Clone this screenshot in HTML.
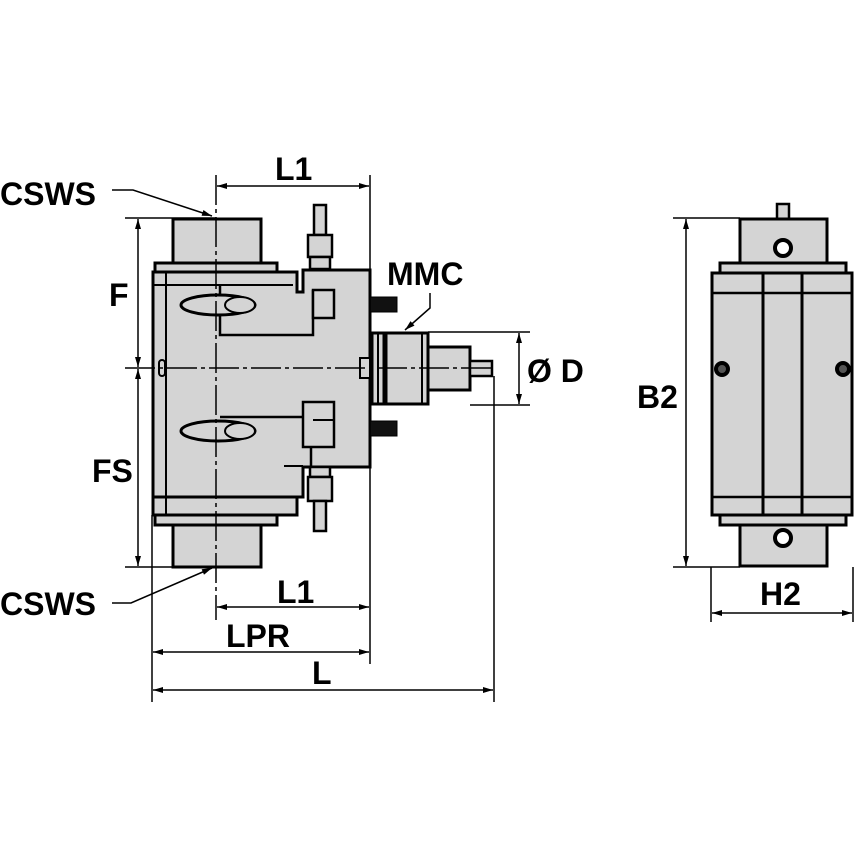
<!DOCTYPE html>
<html><head><style>body{margin:0;background:#fff}svg{display:block}text{font-family:"Liberation Sans",Arial,sans-serif;font-weight:bold;fill:#000}</style></head>
<body>
<svg width="854" height="854" viewBox="0 0 854 854" xmlns="http://www.w3.org/2000/svg">
<defs>
<marker id="a" viewBox="0 0 10 6" refX="10" refY="3" markerWidth="12" markerHeight="6" orient="auto-start-reverse" markerUnits="userSpaceOnUse"><path d="M0,0L10,3L0,6z" fill="#000"/></marker>
</defs>
<g stroke="#000" fill="#d4d4d4">
<rect x="173" y="219" width="88" height="44" stroke-width="3"/>
<rect x="173" y="525" width="88" height="42" stroke-width="3"/>
<rect x="155" y="263" width="122" height="9" stroke-width="3"/>
<rect x="155" y="515" width="122" height="10" stroke-width="3"/>
<path d="M153,272 H297 V292 H303 V270 H370 V467 H303 V497 H153 Z" stroke-width="3"/>
<rect x="153" y="497" width="144" height="18" stroke-width="3"/>
<line x1="166" y1="272" x2="166" y2="515" stroke-width="2"/>
<line x1="153" y1="285" x2="293" y2="285" stroke-width="2"/>
<line x1="153" y1="497" x2="297" y2="497" stroke-width="2"/>
<path d="M220,285 V335 H313 V290" fill="none" stroke-width="2.5"/>
<path d="M220,417 H311 V467" fill="none" stroke-width="2.5"/>
<line x1="284" y1="466" x2="303" y2="466" stroke-width="2"/>
<rect x="313" y="290" width="21" height="28" stroke-width="2.5"/>
<rect x="303" y="402" width="31" height="45" stroke-width="2.5"/>
<line x1="313" y1="420" x2="334" y2="420" stroke-width="2"/>
<ellipse cx="218" cy="305" rx="37" ry="10" stroke-width="3"/>
<ellipse cx="240" cy="305" rx="15" ry="8" stroke-width="2"/>
<ellipse cx="218" cy="431" rx="37" ry="10" stroke-width="3"/>
<ellipse cx="240" cy="431" rx="15" ry="8" stroke-width="2"/>
<rect x="159" y="360" width="6" height="16" rx="3" stroke-width="2"/>
<rect x="314" y="205" width="12" height="30" stroke-width="2.5"/>
<rect x="308" y="235" width="24" height="22" stroke-width="2.5"/>
<rect x="310" y="257" width="20" height="12" stroke-width="2.5"/>
<rect x="310" y="467" width="20" height="10" stroke-width="2.5"/>
<rect x="308" y="477" width="24" height="24" stroke-width="2.5"/>
<rect x="314" y="501" width="12" height="30" stroke-width="2.5"/>
<rect x="370" y="297" width="27" height="15" fill="#111" stroke-width="1"/>
<rect x="370" y="421" width="27" height="15" fill="#111" stroke-width="1"/>
<rect x="360" y="358" width="10" height="20" stroke-width="2"/>
<rect x="372" y="333" width="56" height="71" stroke-width="3"/>
<line x1="378" y1="333" x2="378" y2="404" stroke-width="2"/>
<line x1="385" y1="333" x2="385" y2="404" stroke-width="5"/>
<line x1="422" y1="333" x2="422" y2="404" stroke-width="2"/>
<rect x="428" y="347" width="42" height="43" stroke-width="3"/>
<rect x="470" y="361" width="22" height="15" stroke-width="2.5"/>
<rect x="777" y="204" width="12" height="15" stroke-width="2.5"/>
<rect x="740" y="219" width="87" height="44" stroke-width="3"/>
<rect x="740" y="525" width="87" height="41" stroke-width="3"/>
<rect x="720" y="263" width="126" height="10" stroke-width="3"/>
<rect x="720" y="515" width="126" height="10" stroke-width="3"/>
<rect x="712" y="273" width="140" height="242" stroke-width="3"/>
<line x1="712" y1="293" x2="852" y2="293" stroke-width="2.5"/>
<line x1="712" y1="497" x2="852" y2="497" stroke-width="2.5"/>
<line x1="763" y1="273" x2="763" y2="515" stroke-width="3"/>
<line x1="802" y1="273" x2="802" y2="515" stroke-width="3"/>
<circle cx="783" cy="248" r="8" fill="#fff" stroke-width="4"/>
<circle cx="783" cy="538" r="8" fill="#fff" stroke-width="4"/>
<circle cx="722" cy="369" r="6" fill="#555" stroke-width="4"/>
<circle cx="843" cy="369" r="6" fill="#555" stroke-width="4"/>
</g>
<g stroke="#000" fill="none" stroke-width="1.5">
<line x1="216" y1="175" x2="216" y2="620" stroke-dasharray="30,4,4,4"/>
<line x1="125" y1="368" x2="495" y2="368" stroke-dasharray="30,4,4,4"/>
<line x1="125" y1="218" x2="216" y2="218"/>
<line x1="125" y1="567" x2="216" y2="567"/>
<line x1="370" y1="175" x2="370" y2="664"/>
<line x1="152" y1="515" x2="152" y2="702"/>
<line x1="494" y1="376" x2="494" y2="702"/>
<line x1="428" y1="332" x2="530" y2="332"/>
<line x1="470" y1="405" x2="530" y2="405"/>
<line x1="673" y1="218" x2="740" y2="218"/>
<line x1="673" y1="567" x2="740" y2="567"/>
<line x1="711" y1="567" x2="711" y2="622"/>
<line x1="853" y1="567" x2="853" y2="622"/>
<line x1="217" y1="186" x2="369" y2="186" marker-start="url(#a)" marker-end="url(#a)"/>
<line x1="217" y1="607" x2="369" y2="607" marker-start="url(#a)" marker-end="url(#a)"/>
<line x1="153" y1="652" x2="369" y2="652" marker-start="url(#a)" marker-end="url(#a)"/>
<line x1="153" y1="690" x2="493" y2="690" marker-start="url(#a)" marker-end="url(#a)"/>
<line x1="138" y1="219" x2="138" y2="367" marker-start="url(#a)" marker-end="url(#a)"/>
<line x1="138" y1="369" x2="138" y2="566" marker-start="url(#a)" marker-end="url(#a)"/>
<line x1="519" y1="333" x2="519" y2="404" marker-start="url(#a)" marker-end="url(#a)"/>
<line x1="686" y1="219" x2="686" y2="566" marker-start="url(#a)" marker-end="url(#a)"/>
<line x1="712" y1="613" x2="852" y2="613" marker-start="url(#a)" marker-end="url(#a)"/>
<path d="M112,190 H133 L212,216" marker-end="url(#a)"/>
<path d="M112,603 H131 L212,568" marker-end="url(#a)"/>
<path d="M430,293 V308 L405,330" marker-end="url(#a)"/>
</g>
<g font-size="32">
<text x="0" y="205">CSWS</text>
<text x="0" y="615">CSWS</text>
<text x="275" y="180">L1</text>
<text x="277" y="603">L1</text>
<text x="226" y="647">LPR</text>
<text x="312" y="684">L</text>
<text x="109" y="306">F</text>
<text x="92" y="482">FS</text>
<text x="387" y="285">MMC</text>
<text x="527" y="382">Ø D</text>
<text x="637" y="408">B2</text>
<text x="760" y="605">H2</text>
</g>
</svg>
</body></html>
